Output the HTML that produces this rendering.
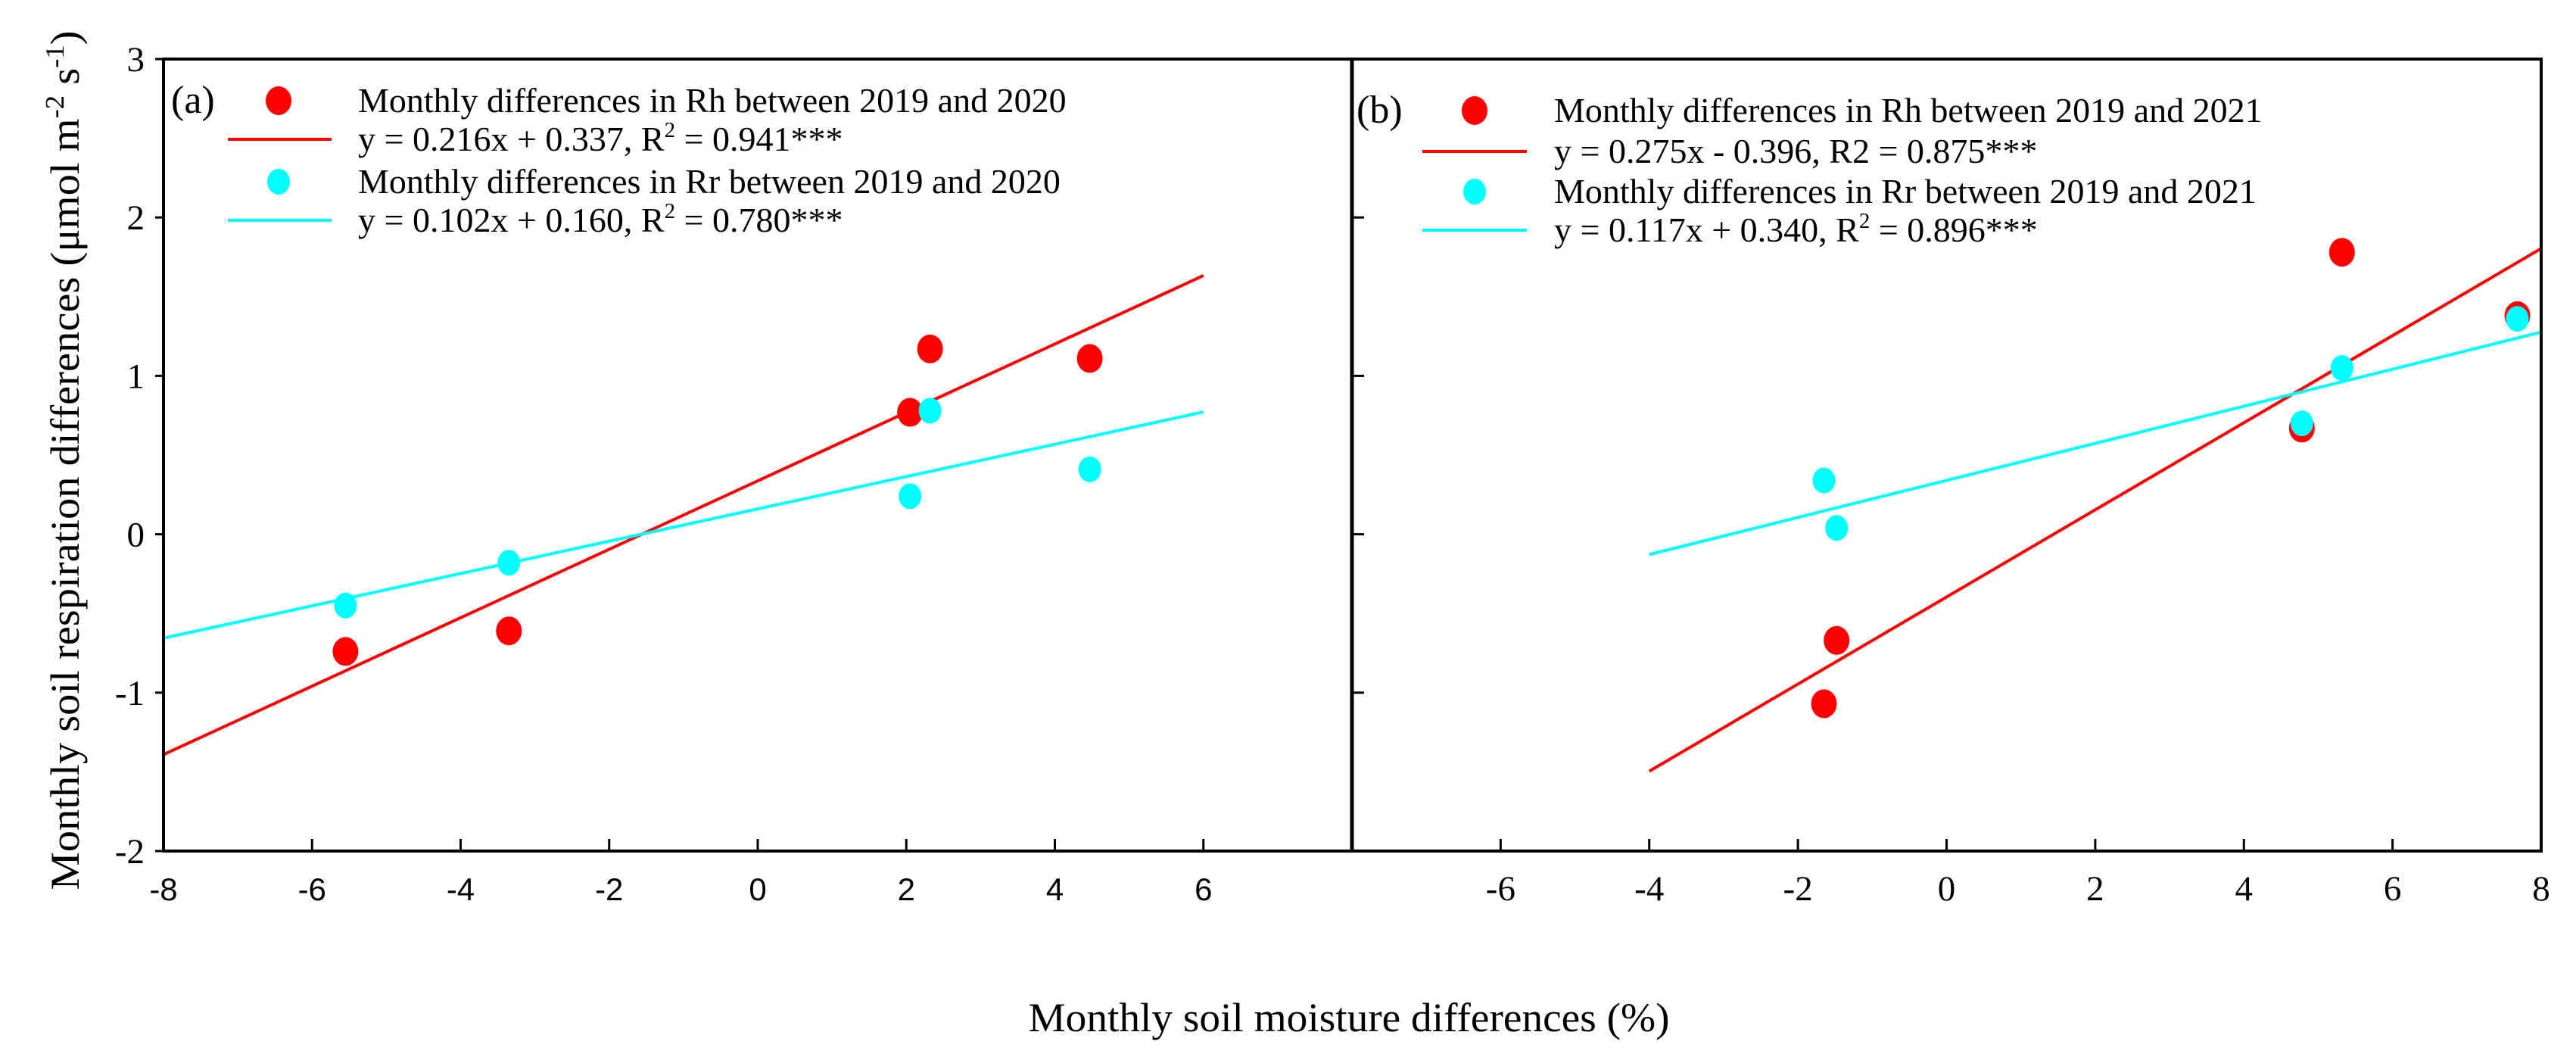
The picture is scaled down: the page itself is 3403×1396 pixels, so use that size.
<!DOCTYPE html>
<html><head><meta charset="utf-8"><style>
html,body{margin:0;padding:0;background:#fff;}
svg text{font-family:"Liberation Serif",serif;fill:#000;}
</style></head><body>
<svg id="chart" width="3403" height="1391" viewBox="0 0 3403 1391" xmlns="http://www.w3.org/2000/svg">
<g id="root" font-family="Liberation Serif, serif"></g>
</svg>
<script>
const yTicks = [-2, -1, 0, 1, 2, 3];
const xTicksA = [-8, -6, -4, -2, 0, 2, 4, 6];
const xTicksB = [-6, -4, -2, 0, 2, 4, 6, 8];
const rhXA = [-5.55, -3.35, 2.05, 2.32, 4.47];
const rhYA = [-0.74, -0.61, 0.77, 1.17, 1.11];
const rrXA = [-5.55, -3.35, 2.05, 2.32, 4.47];
const rrYA = [-0.45, -0.18, 0.24, 0.78, 0.41];
const rhXB = [-1.65, -1.48, 4.78, 5.32, 7.68];
const rhYB = [-1.07, -0.67, 0.67, 1.78, 1.38];
const rrXB = [-1.65, -1.48, 4.78, 5.32, 7.68];
const rrYB = [0.34, 0.04, 0.70, 1.05, 1.36];
const fitA = {rhSlope:0.216, rhInt:0.337, rrSlope:0.102, rrInt:0.160, xMin:-8, xMax:6};
const fitB = {rhSlope:0.275, rhInt:-0.396, rrSlope:0.117, rrInt:0.340, xMin:-4, xMax:8};

const NS = "http://www.w3.org/2000/svg";
const root = document.getElementById('root');
function mk(tag, attrs, parent, txt){
  const e = document.createElementNS(NS, tag);
  for (const k in attrs) e.setAttribute(k, attrs[k]);
  if (txt !== undefined) e.textContent = txt;
  (parent || root).appendChild(e);
  return e;
}
const plotTop = 78, plotBot = 1124;
const yS = v => plotBot - (v + 2) * (plotBot - plotTop) / 5;
const panels = [
  {x0:216, x1:1786},
  {x0:1786, x1:3357}
];
function xS(p, v){ return p.x0 + (v + 8) * (p.x1 - p.x0) / 16; }

function drawPanel(pi, rhX, rhY, rrX, rrY, fit, xt, sans){
  const p = panels[pi];
  const g = mk('g', {});
  
  
  const rl = mk('line', {x1:xS(p,fit.xMin), y1:yS(fit.rhSlope*fit.xMin+fit.rhInt), x2:xS(p,fit.xMax), y2:yS(fit.rhSlope*fit.xMax+fit.rhInt), stroke:'#ff0000','stroke-width':4}, g);
  
  
  const cl = mk('line', {x1:xS(p,fit.xMin), y1:yS(fit.rrSlope*fit.xMin+fit.rrInt), x2:xS(p,fit.xMax), y2:yS(fit.rrSlope*fit.xMax+fit.rrInt), stroke:'#00ffff','stroke-width':4}, g);
  
  
  for (let i = 0; i < rhX.length; i++){
    const c = mk('ellipse', {cx:xS(p,rhX[i]), cy:yS(rhY[i]), rx:17, ry:19, fill:'#ff0000'}, g);
    
    
  }
  for (let i = 0; i < rrX.length; i++){
    const c = mk('ellipse', {cx:xS(p,rrX[i]), cy:yS(rrY[i]), rx:15, ry:17, fill:'#00ffff'}, g);
    
    
  }
  xt.forEach(v => {
    const x = xS(p, v);
    if (x > p.x0 + 2 && x < p.x1 - 2) mk('line', {x1:x, y1:plotBot, x2:x, y2:plotBot-16, stroke:'#000','stroke-width':3}, g);
    const attrs = {x:x, y:plotBot+65, 'text-anchor':'middle', 'font-size': sans ? 42 : 47};
    if (sans) attrs['font-family'] = 'Liberation Sans, sans-serif';
    const t = mk('text', attrs, g, String(v));
    if (sans) t.style.fontFamily = '"Liberation Sans", sans-serif';
    
    
  });
}

drawPanel(0, rhXA, rhYA, rrXA, rrYA, fitA, xTicksA, true);
drawPanel(1, rhXB, rhYB, rrXB, rrYB, fitB, xTicksB, false);

yTicks.forEach(v => {
  const y = yS(v);
  mk('line', {x1:205, y1:y, x2:216, y2:y, stroke:'#000','stroke-width':3});
  if (v > -2 && v < 3) mk('line', {x1:1786, y1:y, x2:1802, y2:y, stroke:'#000','stroke-width':3});
  const t = mk('text', {x:191, y:y+16, 'text-anchor':'end', 'font-size':47}, root, String(v));
  
  
});

const fr = mk('rect', {x:216, y:78, width:3141, height:1046, fill:'none', stroke:'#000', 'stroke-width':4});


mk('line', {x1:1786, y1:78, x2:1786, y2:1124, stroke:'#000', 'stroke-width':5});

function legend(label, lx, mx, l1, l2, tx, ys, texts){
  const t0 = mk('text', {x:lx, y:ys[0]+16, 'font-size':52}, root, label);
  
  
  const m1 = mk('ellipse', {cx:mx, cy:ys[0], rx:17, ry:19, fill:'#ff0000'});
  
  
  mk('line', {x1:l1, y1:ys[1], x2:l2, y2:ys[1], stroke:'#ff0000', 'stroke-width':4});
  const m2 = mk('ellipse', {cx:mx, cy:ys[2], rx:15, ry:17, fill:'#00ffff'});
  
  
  mk('line', {x1:l1, y1:ys[3], x2:l2, y2:ys[3], stroke:'#00ffff', 'stroke-width':4});
  texts.forEach((s, i) => {
    const t = mk('text', {x:tx, y:ys[i]+15, 'font-size':46}, root);
    t.innerHTML = s;
    
    
  });
}
legend('(a)', 226, 368, 301, 438, 473, [133, 184, 240, 291], [
  'Monthly differences in Rh between 2019 and 2020',
  'y = 0.216x + 0.337, R<tspan dy="-18" font-size="29">2</tspan><tspan dy="18"> = 0.941***</tspan>',
  'Monthly differences in Rr between 2019 and 2020',
  'y = 0.102x + 0.160, R<tspan dy="-18" font-size="29">2</tspan><tspan dy="18"> = 0.780***</tspan>'
]);
legend('(b)', 1792, 1948, 1879, 2017, 2053, [146, 200, 253, 304], [
  'Monthly differences in Rh between 2019 and 2021',
  'y = 0.275x - 0.396, R2 = 0.875***',
  'Monthly differences in Rr between 2019 and 2021',
  'y = 0.117x + 0.340, R<tspan dy="-18" font-size="29">2</tspan><tspan dy="18"> = 0.896***</tspan>'
]);

const yt = mk('text', {x:0, y:0, 'font-size':54, 'text-anchor':'middle', textLength:1135, lengthAdjust:'spacingAndGlyphs', transform:'translate(104,608) rotate(-90)'});
yt.innerHTML = 'Monthly soil respiration differences (μmol m<tspan dy="-20" font-size="35">-2</tspan><tspan dy="20"> s</tspan><tspan dy="-20" font-size="35">-1</tspan><tspan dy="20">)</tspan>';


const xtt = mk('text', {x:1782, y:1362, 'font-size':54, 'text-anchor':'middle', textLength:847, lengthAdjust:'spacingAndGlyphs'}, root, 'Monthly soil moisture differences (%)');


</script>
</body></html>
